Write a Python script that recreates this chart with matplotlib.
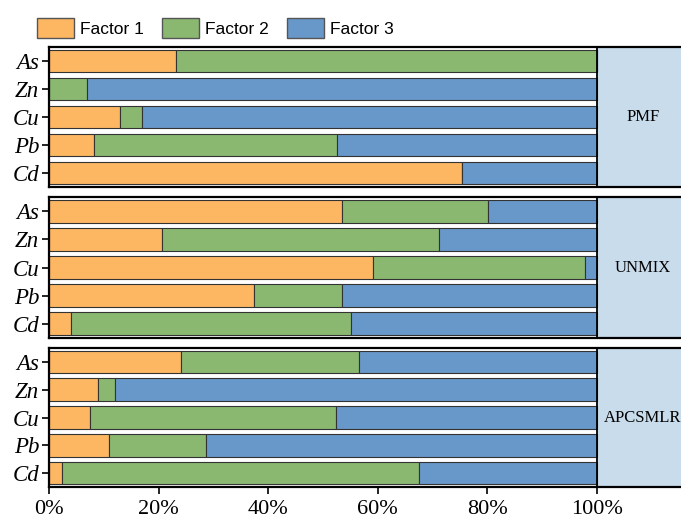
import matplotlib
matplotlib.use("Agg")
import matplotlib.pyplot as plt
from matplotlib.patches import Patch
import numpy as np

elements = ["As", "Zn", "Cu", "Pb", "Cd"]
models = ["PMF", "UNMIX", "APCSMLR"]
factors = ["Factor 1", "Factor 2", "Factor 3"]
colors = ["#FDB763", "#8BB871", "#6897CA"]

# contribution (%) of each factor per element, rows follow `elements`
pmf_f1 = [23.2, 0.0, 13.0, 8.3, 75.4]
pmf_f2 = [76.8, 6.9, 4.0, 44.3, 0.0]
pmf_f3 = [0.0, 93.1, 83.0, 47.4, 24.6]

unmix_f1 = [53.5, 20.7, 59.1, 37.5, 4.0]
unmix_f2 = [26.6, 50.5, 38.8, 16.0, 51.1]
unmix_f3 = [19.9, 28.8, 2.1, 46.5, 44.9]

apcs_f1 = [24.0, 8.9, 7.5, 11.0, 2.3]
apcs_f2 = [32.5, 3.1, 44.8, 17.7, 65.2]
apcs_f3 = [43.5, 88.0, 47.7, 71.3, 32.5]

data = {
    "PMF": [pmf_f1, pmf_f2, pmf_f3],
    "UNMIX": [unmix_f1, unmix_f2, unmix_f3],
    "APCSMLR": [apcs_f1, apcs_f2, apcs_f3],
}

W, H = 681, 522
fig = plt.figure(figsize=(W / 100, H / 100), dpi=100)

serif = ["Liberation Serif", "DejaVu Serif"]
left = 49
right = 689
xmax = 116.8
# (top, bottom) of each panel in pixels
panels = [(47, 187), (197, 338), (348, 487)]

y = np.arange(len(elements))
for i, (model, (top, bot)) in enumerate(zip(models, panels)):
    ax = fig.add_axes([left / W, 1 - bot / H, (right - left) / W, (bot - top) / H])
    start = np.zeros(len(elements))
    for vals, c in zip(data[model], colors):
        vals = np.array(vals)
        ax.barh(y, vals, left=start, height=0.82, color=c,
                edgecolor="#333333", linewidth=0.8)
        start += vals
    ax.axvspan(100, xmax, color="#C8DCEB", zorder=0)
    ax.axvline(100, color="black", lw=1.3)
    ax.text((100 + xmax) / 2, 2, model, ha="center", va="center",
            fontsize=12, family=serif)
    ax.set_xlim(0, xmax)
    ax.set_ylim(4.5, -0.5)
    ax.set_yticks(y)
    ax.set_yticklabels(elements, fontsize=16.5, family=serif, style="italic")
    ax.tick_params(axis="y", length=5, width=1.2, pad=2)
    for s in ax.spines.values():
        s.set_linewidth(1.6)
    if i < 2:
        ax.set_xticks([])
    else:
        ax.set_xticks([0, 20, 40, 60, 80, 100])
        ax.set_xticklabels(["%d%%" % t for t in [0, 20, 40, 60, 80, 100]],
                           fontsize=16, family=serif)
        ax.tick_params(axis="x", length=5, width=1.2, pad=4)

handles = [Patch(facecolor=c, edgecolor="#555555", linewidth=1.0) for c in colors]
fig.legend(handles, factors, loc="center left", bbox_to_anchor=(37 / W, 1 - 28 / H),
           ncol=3, frameon=False, borderpad=0, borderaxespad=0,
           handlelength=2.13, handleheight=1.32,
           handletextpad=0.35, columnspacing=1.05,
           prop={"family": "Liberation Sans", "size": 12.5})

fig.savefig("out.png", dpi=100)
